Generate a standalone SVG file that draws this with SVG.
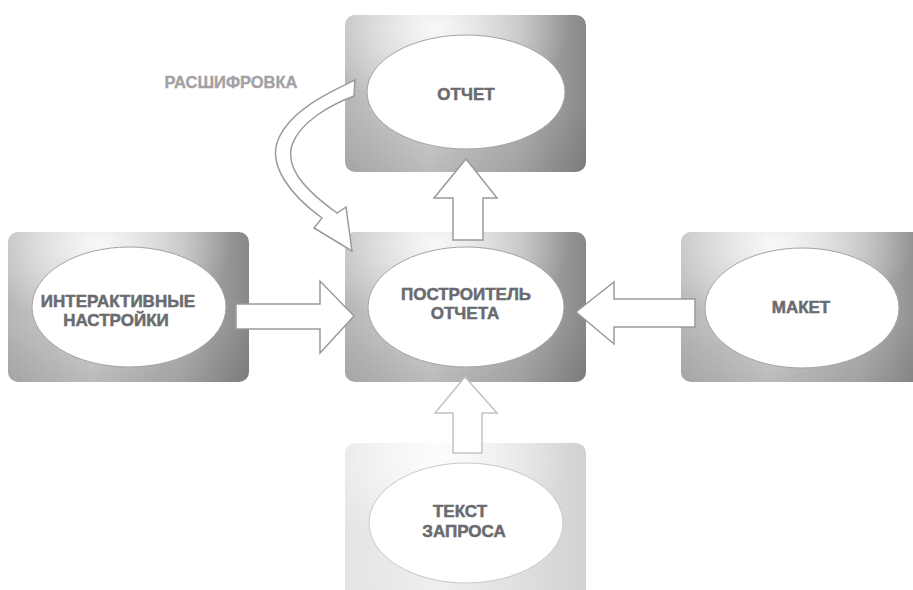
<svg xmlns="http://www.w3.org/2000/svg" width="913" height="590" viewBox="0 0 913 590">
<defs>
<linearGradient id="gBase" x1="0" y1="0" x2="1" y2="0">
<stop offset="0" stop-color="#b6b6b8"/>
<stop offset="0.35" stop-color="#d0d0d1"/>
<stop offset="0.72" stop-color="#b2b2b4"/>
<stop offset="1" stop-color="#88888b"/>
</linearGradient>
<radialGradient id="gHi" cx="0.38" cy="0.08" r="0.55">
<stop offset="0" stop-color="#ffffff" stop-opacity="0.85"/>
<stop offset="1" stop-color="#ffffff" stop-opacity="0"/>
</radialGradient>
<linearGradient id="gShade" x1="0" y1="0" x2="0" y2="1">
<stop offset="0.6" stop-color="#000000" stop-opacity="0"/>
<stop offset="1" stop-color="#000000" stop-opacity="0.1"/>
</linearGradient>
<linearGradient id="gBaseL" x1="0" y1="0" x2="1" y2="0">
<stop offset="0" stop-color="#e4e4e5"/>
<stop offset="0.4" stop-color="#efeff0"/>
<stop offset="1" stop-color="#d2d2d4"/>
</linearGradient>
</defs>
<style>
.box{fill:url(#gBase)}
.hi{fill:url(#gHi)}
.sh{fill:url(#gShade)}
.boxl{fill:url(#gBaseL)}
.ell{fill:#ffffff;stroke:#a3a3a5;stroke-width:1}
.lbl{font-family:"Liberation Sans",Arial,sans-serif;font-weight:bold;font-size:17px;fill:#6a6b6e;stroke:#6a6b6e;stroke-width:0.5;text-anchor:middle}
.arr{fill:#ffffff;stroke:#9a9a9c;stroke-width:1.5;stroke-linejoin:miter}
.arrl{fill:#ffffff;stroke:#c4c4c6;stroke-width:1.5}
.cap{font-family:"Liberation Sans",Arial,sans-serif;font-weight:bold;font-size:16.5px;fill:#a2a2a4;stroke:#a2a2a4;stroke-width:0.4;text-anchor:middle}
</style>
<g id="node-otchet">
<rect class="box" x="345" y="15" width="241" height="157" rx="10"/>
<rect class="hi" x="345" y="15" width="241" height="157" rx="10"/>
<rect class="sh" x="345" y="15" width="241" height="157" rx="10"/>
<ellipse class="ell" cx="466" cy="92" rx="99" ry="57"/>
<text class="lbl" x="466" y="100">ОТЧЕТ</text>
</g>
<g id="node-postroitel">
<rect class="box" x="345" y="232" width="241" height="150" rx="10"/>
<rect class="hi" x="345" y="232" width="241" height="150" rx="10"/>
<rect class="sh" x="345" y="232" width="241" height="150" rx="10"/>
<ellipse class="ell" cx="466" cy="307" rx="98" ry="60"/>
<text class="lbl" x="466" y="300">ПОСТРОИТЕЛЬ</text>
<text class="lbl" x="465" y="319">ОТЧЕТА</text>
</g>
<g id="node-interaktivnye">
<rect class="box" x="8" y="232" width="241" height="150" rx="10"/>
<rect class="hi" x="8" y="232" width="241" height="150" rx="10"/>
<rect class="sh" x="8" y="232" width="241" height="150" rx="10"/>
<ellipse class="ell" cx="129" cy="307" rx="97" ry="60"/>
<text class="lbl" x="118" y="307">ИНТЕРАКТИВНЫЕ</text>
<text class="lbl" x="116" y="326">НАСТРОЙКИ</text>
</g>
<g id="node-maket">
<rect class="box" x="681" y="232" width="250" height="150" rx="10"/>
<rect class="hi" x="681" y="232" width="250" height="150" rx="10"/>
<rect class="sh" x="681" y="232" width="250" height="150" rx="10"/>
<ellipse class="ell" cx="802" cy="308" rx="97" ry="60"/>
<text class="lbl" x="801" y="313">МАКЕТ</text>
</g>
<g id="node-tekst">
<rect class="boxl" x="345" y="443" width="241" height="170" rx="10"/>
<rect class="hi" x="345" y="443" width="241" height="170" rx="10"/>
<ellipse class="ell" cx="466" cy="523" rx="97" ry="60" style="stroke:#c8c8ca"/>
<text class="lbl" x="460" y="517">ТЕКСТ</text>
<text class="lbl" x="464" y="537">ЗАПРОСА</text>
</g>
<g id="connectors">
<polygon class="arr" points="453,240 483,240 483,198 497,198 466,159 434,198 453,198"/>
<polygon class="arr" points="236,304 320,304 320,281 354,316 320,353 320,329 236,329"/>
<polygon class="arr" points="695,299 614,299 614,282 576,312 614,344 614,327 695,327"/>
<polygon class="arrl" points="453,453 482,453 482,413 497,413 465,377 435,413 453,413"/>
<path class="arr" d="M355,80 C330,92 290,110 278,140 C268,165 290,195 322,218 L314,228 L352,251 L346,207 L337,213 C305,190 285,168 292,145 C300,122 330,105 354,96 Z"/>
<text class="cap" x="231" y="88">РАСШИФРОВКА</text>
</g>
</svg>
